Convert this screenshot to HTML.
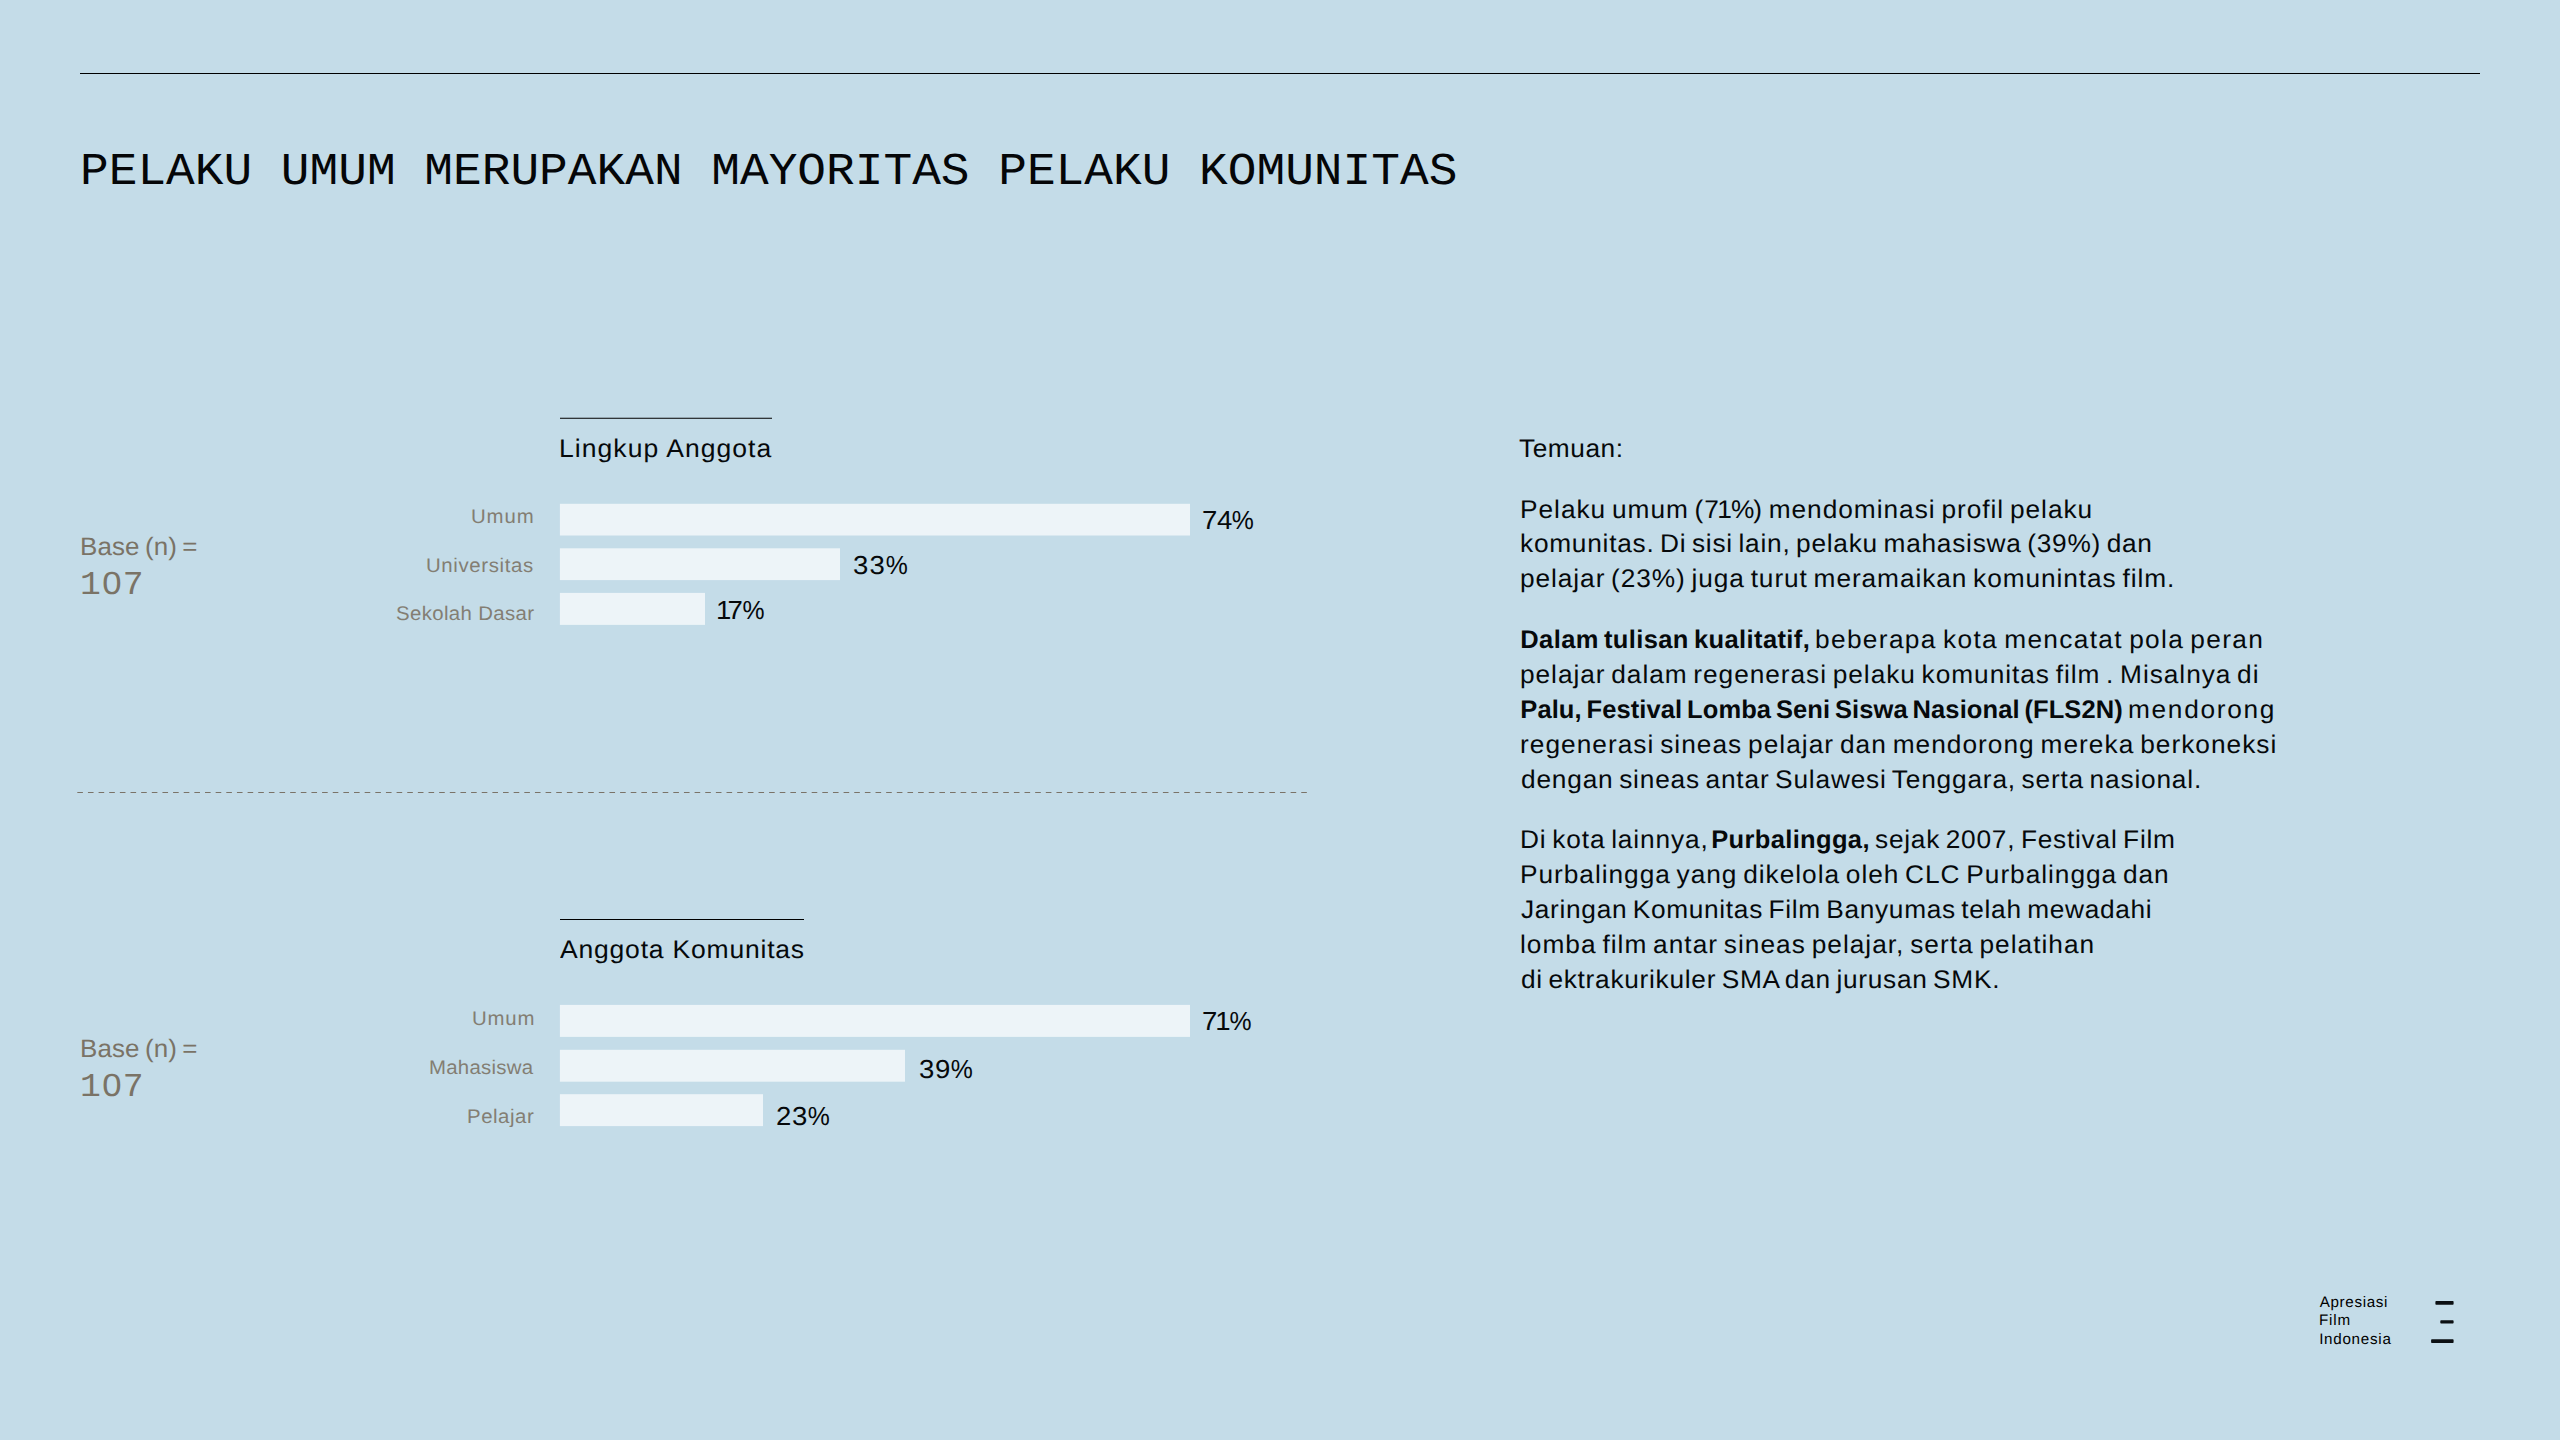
<!DOCTYPE html>
<html lang="id"><head><meta charset="utf-8"><title>Pelaku Umum Merupakan Mayoritas Pelaku Komunitas</title>
<style>
html,body{margin:0;padding:0}
body{width:2560px;height:1440px;overflow:hidden;background:#c4dce8;font-family:"Liberation Sans", sans-serif;color:#06090b}
.slide{position:relative;width:2560px;height:1440px;overflow:hidden;background:#c4dce8}
.t{position:absolute;margin:0;padding:0;white-space:pre;line-height:1;text-rendering:geometricPrecision;font-weight:400;transform-origin:0 50%;font-family:"Liberation Sans", sans-serif;color:#06090b}
.m{font-family:"Liberation Mono", monospace}
.b{font-weight:700}
.g{color:#7a7366}
h1,h2,p,ul,li,figure{margin:0;padding:0;font-weight:400;list-style:none}
svg{position:absolute;left:0;top:0;overflow:visible}
.bars rect{fill:#edf4f8}
.nd{position:absolute;width:7px;height:7px;background:#c4dce8}
.rule{position:absolute;left:80px;top:73px;width:2400px;height:1px;background:#000}
</style></head>
<body>
<main class="slide">
<header><div class="rule"></div>
<h1 class="t m" style="left:79.72px;top:150px;font-size:45.5px;letter-spacing:0.000px;transform:scaleX(1.050915750915751);color:#050608">PELAKU UMUM MERUPAKAN MAYORITAS PELAKU KOMUNITAS</h1>
</header>
<section class="chart" id="chart1">
<div class="base"><span class="t g" style="left:79.69px;top:535px;font-size:25.2px;letter-spacing:0.119px;word-spacing:-2px;transform:scaleX(1.03)">Base (n) =</span> <span class="t m g" style="left:80.16px;top:570px;font-size:33.4px;letter-spacing:0.548px;transform:scaleX(1.04)">107</span><i class="nd" style="left:109px;top:579.5px"></i></div>
<svg width="2560" height="1440" aria-hidden="true"><line x1="560" x2="772" y1="418.2" y2="418.2" stroke="#000" stroke-width="1.15"/><g class="bars"><rect x="559.9" y="503.8" width="630.1" height="31.7"/><rect x="559.9" y="548.3" width="280.1" height="31.8"/><rect x="559.9" y="592.9" width="145.1" height="32.0"/></g></svg>
<h2 class="t" style="left:559.02px;top:437px;font-size:25.5px;letter-spacing:1.005px;transform:scaleX(1.04)">Lingkup Anggota</h2>
<ul>
<li><span class="t" style="left:471.45px;top:508px;font-size:19.8px;letter-spacing:0.853px;transform:scaleX(1.03);color:#837e73">Umum</span> <span class="t" style="left:1202.08px;top:507px;font-size:26px;letter-spacing:-0.243px;transform:scaleX(1.06)">74<span style="display:inline-block;transform:scaleX(.9);transform-origin:0 50%">%</span></span></li>
<li><span class="t" style="left:426.15px;top:557px;font-size:19.8px;letter-spacing:0.629px;transform:scaleX(1.03);color:#837e73">Universitas</span> <span class="t" style="left:852.69px;top:552px;font-size:26px;letter-spacing:1.212px;transform:scaleX(1.06)">33<span style="display:inline-block;transform:scaleX(.9);transform-origin:0 50%">%</span></span></li>
<li><span class="t" style="left:396.47px;top:605px;font-size:19.8px;letter-spacing:0.352px;transform:scaleX(1.03);color:#837e73">Sekolah Dasar</span> <span class="t" style="left:716.18px;top:597px;font-size:26px;letter-spacing:-0.632px;transform:scaleX(1.06)"><span style="margin-right:-3px">1</span>7<span style="display:inline-block;transform:scaleX(.9);transform-origin:0 50%">%</span></span></li>
</ul></section>
<svg width="2560" height="1440" aria-hidden="true"><line x1="77.3" x2="1307" y1="792.5" y2="792.5" stroke="#7a7368" stroke-width="1.15" stroke-dasharray="5.6 5.043"/></svg>
<section class="chart" id="chart2">
<div class="base"><span class="t g" style="left:79.69px;top:1037px;font-size:25.2px;letter-spacing:0.119px;word-spacing:-2px;transform:scaleX(1.03)">Base (n) =</span> <span class="t m g" style="left:80.16px;top:1072px;font-size:33.4px;letter-spacing:0.548px;transform:scaleX(1.04)">107</span><i class="nd" style="left:109px;top:1081.4px"></i></div>
<svg width="2560" height="1440" aria-hidden="true"><line x1="560" x2="804" y1="919.55" y2="919.55" stroke="#000" stroke-width="1.1"/><g class="bars"><rect x="559.9" y="1004.9" width="630.1" height="32.0"/><rect x="559.9" y="1049.8" width="345.1" height="31.9"/><rect x="559.9" y="1094.2" width="203.1" height="31.9"/></g></svg>
<h2 class="t" style="left:560.14px;top:938px;font-size:25.5px;letter-spacing:0.760px;transform:scaleX(1.04)">Anggota Komunitas</h2>
<ul>
<li><span class="t" style="left:471.65px;top:1010px;font-size:19.8px;letter-spacing:0.788px;transform:scaleX(1.03);color:#837e73">Umum</span> <span class="t" style="left:1202.17px;top:1008px;font-size:26px;letter-spacing:0.559px;transform:scaleX(1.06)">7<span style="margin:0 -2px 0 -2.5px">1</span><span style="display:inline-block;transform:scaleX(.9);transform-origin:0 50%">%</span></span></li>
<li><span class="t" style="left:428.70px;top:1059px;font-size:19.8px;letter-spacing:0.258px;transform:scaleX(1.03);color:#837e73">Mahasiswa</span> <span class="t" style="left:918.54px;top:1056px;font-size:26px;letter-spacing:0.599px;transform:scaleX(1.06)">39<span style="display:inline-block;transform:scaleX(.9);transform-origin:0 50%">%</span></span></li>
<li><span class="t" style="left:467.45px;top:1108px;font-size:19.8px;letter-spacing:0.527px;transform:scaleX(1.03);color:#837e73">Pelajar</span> <span class="t" style="left:775.77px;top:1103px;font-size:26px;letter-spacing:0.606px;transform:scaleX(1.06)">23<span style="display:inline-block;transform:scaleX(.9);transform-origin:0 50%">%</span></span></li>
</ul></section>
<aside class="findings">
<p>
<span class="t" style="left:1519.38px;top:437px;font-size:25.5px;letter-spacing:0.542px;word-spacing:-2.4px;transform:scaleX(1.03)">Temuan:</span>
</p>
<p>
<span class="t" style="left:1519.74px;top:498px;font-size:25.5px;letter-spacing:0.945px;word-spacing:-2.4px;transform:scaleX(1.03)">Pelaku umum (7<span style="margin:0 -2px 0 -2.5px">1</span><span style="margin-right:-2px">%</span>) mendominasi profil pelaku</span>
<span class="t" style="left:1520.25px;top:532px;font-size:25.5px;letter-spacing:0.730px;word-spacing:-2.4px;transform:scaleX(1.03)">komunitas. Di sisi lain, pelaku mahasiswa (39%) dan</span>
<span class="t" style="left:1520.25px;top:567px;font-size:25.5px;letter-spacing:0.899px;word-spacing:-2.4px;transform:scaleX(1.03)">pelajar (23%) juga turut meramaikan komunintas film.</span>
</p>
<p>
<span class="t b" style="left:1520.30px;top:628px;font-size:25.5px;letter-spacing:0.396px;word-spacing:-2.4px">Dalam tulisan kualitatif,</span> <span class="t" style="left:1814.65px;top:628px;font-size:25.5px;letter-spacing:1.308px;word-spacing:-2.4px;transform:scaleX(1.03)">beberapa kota mencatat pola peran</span>
<span class="t" style="left:1520.25px;top:663px;font-size:25.5px;letter-spacing:0.923px;word-spacing:-2.4px;transform:scaleX(1.03)">pelajar dalam regenerasi pelaku komunitas film . Misalnya di</span>
<span class="t b" style="left:1520.30px;top:698px;font-size:25.5px;letter-spacing:0.100px;word-spacing:-2.4px">Palu, Festival Lomba Seni Siswa Nasional (FLS2N)</span> <span class="t" style="left:2128.20px;top:698px;font-size:25.5px;letter-spacing:1.636px;word-spacing:-2.4px;transform:scaleX(1.03)">mendorong</span>
<span class="t" style="left:1520.00px;top:733px;font-size:25.5px;letter-spacing:0.992px;word-spacing:-2.4px;transform:scaleX(1.03)">regenerasi sineas pelajar dan mendorong mereka berkoneksi</span>
<span class="t" style="left:1520.77px;top:768px;font-size:25.5px;letter-spacing:0.785px;word-spacing:-2.4px;transform:scaleX(1.03)">dengan sineas antar Sulawesi Tenggara, serta nasional.</span>
</p>
<p>
<span class="t" style="left:1519.74px;top:828px;font-size:25.5px;letter-spacing:0.854px;word-spacing:-2.4px;transform:scaleX(1.03)">Di kota lainnya,</span> <span class="t b" style="left:1711.20px;top:828px;font-size:25.5px;letter-spacing:0.350px;word-spacing:-2.4px">Purbalingga,</span> <span class="t" style="left:1875.23px;top:828px;font-size:25.5px;letter-spacing:0.743px;word-spacing:-2.4px;transform:scaleX(1.03)">sejak 2007, Festival Film</span>
<span class="t" style="left:1519.74px;top:863px;font-size:25.5px;letter-spacing:0.938px;word-spacing:-2.4px;transform:scaleX(1.03)">Purbalingga yang dikelola oleh CLC Purbalingga dan</span>
<span class="t" style="left:1521.28px;top:898px;font-size:25.5px;letter-spacing:0.662px;word-spacing:-2.4px;transform:scaleX(1.03)">Jaringan Komunitas Film Banyumas telah mewadahi</span>
<span class="t" style="left:1520.25px;top:933px;font-size:25.5px;letter-spacing:0.978px;word-spacing:-2.4px;transform:scaleX(1.03)">lomba film antar sineas pelajar, serta pelatihan</span>
<span class="t" style="left:1520.77px;top:968px;font-size:25.5px;letter-spacing:0.699px;word-spacing:-2.4px;transform:scaleX(1.03)">di ektrakurikuler SMA dan jurusan SMK.</span>
</p>
</aside>
<footer class="logo">
<span class="t" style="left:2319.75px;top:1295px;font-size:15.2px;letter-spacing:0.644px;color:#000">Apresiasi</span> <span class="t" style="left:2319.05px;top:1313px;font-size:15.2px;letter-spacing:0.800px;color:#000">Film</span> <span class="t" style="left:2319.15px;top:1332px;font-size:15.2px;letter-spacing:0.731px;color:#000">Indonesia</span>
<svg width="2560" height="1440" aria-hidden="true"><g fill="#0b0f12"><rect x="2435.4" y="1301" width="18.2" height="3.7" rx="0.8"/><rect x="2440.3" y="1320.2" width="13.3" height="3.4" rx="0.8"/><rect x="2431.1" y="1339.3" width="22.5" height="3.7" rx="0.8"/></g></svg>
</footer>
</main>
</body></html>
